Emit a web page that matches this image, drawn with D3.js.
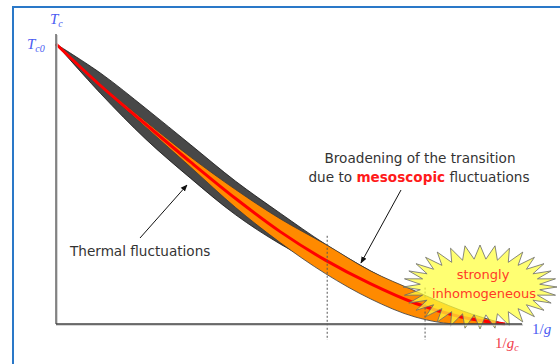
<!DOCTYPE html>
<html>
<head>
<meta charset="utf-8">
<script src="https://cdn.jsdelivr.net/npm/d3@7"></script>
<style>
  html, body { margin: 0; padding: 0; background: #fff; }
  svg { display: block; }
</style>
</head>
<body>
<svg id="chart" width="560" height="364"></svg>
<script>
// 1/g sample positions (1/g_c = 1)
const invG = [0, 0.1, 0.2, 0.3, 0.4, 0.5, 0.6, 0.7, 0.8, 0.9, 1.0];
// mean-field critical temperature Tc(1/g), Tc0 = 1
const tcMean = [1, 0.85, 0.713, 0.578, 0.448, 0.329, 0.228, 0.144, 0.074, 0.026, 0];
// band broadened by thermal fluctuations
const thermalUpper = [1, 0.895, 0.77, 0.64, 0.51, 0.395, 0.285, 0.19, 0.11, 0.045, 0];
const thermalLower = [1, 0.822, 0.66, 0.52, 0.39, 0.285, 0.20, 0.12, 0.06, 0.02, 0];
// band broadened by mesoscopic fluctuations
const mesoUpper = [1, 0.855, 0.723, 0.596, 0.48, 0.375, 0.285, 0.19, 0.118, 0.05, 0];
const mesoLower = [1, 0.846, 0.703, 0.56, 0.416, 0.29, 0.18, 0.09, 0.025, 0, 0];
// dotted markers on the 1/g axis and the Tc they reach
const markerX = [0.604, 0.822];
const markerTop = [0.315, 0.13];

const svg = d3.select("#chart");

const x = d3.scaleLinear().domain([0, 1]).range([56, 505]);
const y = d3.scaleLinear().domain([0, 1]).range([324, 44]);

// blue frame
svg.append("rect")
  .attr("x", 13).attr("y", 7).attr("width", 600).attr("height", 400)
  .attr("fill", "none").attr("stroke", "#2a78c8").attr("stroke-width", 2);

const idx = d3.range(invG.length);
const smooth = d3.curveCatmullRom.alpha(0.5);

const band = (up, lo, c) => d3.area()
  .x(i => x(invG[i])).y0(i => y(lo[i])).y1(i => y(up[i])).curve(c);

// thermal band
svg.append("path")
  .attr("d", band(thermalUpper, thermalLower, smooth)(idx))
  .attr("fill", "#484848").attr("stroke", "#111").attr("stroke-width", 0.8);

// mesoscopic band
svg.append("path")
  .attr("d", band(mesoUpper, mesoLower, d3.curveMonotoneX)(idx))
  .attr("fill", "#ff8a00").attr("stroke", "#3a3a3a").attr("stroke-width", 0.8);

// mean-field line
svg.append("path")
  .attr("d", d3.line().x(i => x(invG[i])).y(i => y(tcMean[i])).curve(smooth)(idx))
  .attr("fill", "none").attr("stroke", "#ff0000").attr("stroke-width", 3);

// dotted markers
markerX.forEach((m, k) => {
  svg.append("line")
    .attr("x1", x(m)).attr("x2", x(m))
    .attr("y1", y(markerTop[k])).attr("y2", y(0) + 16)
    .attr("stroke", "#555").attr("stroke-width", 1)
    .attr("stroke-dasharray", "2,2");
});

// spiky "strongly inhomogeneous" burst
const spikes = 32, cx = 480, cy = 287;
const burst = d3.range(spikes * 2).map(k => {
  const a = Math.PI * k / spikes;
  const outer = k % 2 === 0;
  const rx = outer ? 77 : 60, ry = outer ? 42 : 28;
  return [cx + rx * Math.cos(a), cy + ry * Math.sin(a)];
});
svg.append("path")
  .attr("d", d3.line()(burst) + "Z")
  .attr("fill", "#ffff3c").attr("fill-opacity", 0.72)
  .attr("stroke", "#6a6a6a").attr("stroke-width", 0.8);

svg.append("text").attr("x", 483).attr("y", 279)
  .attr("text-anchor", "middle").attr("font-family", "DejaVu Sans")
  .attr("font-size", 13).attr("fill", "#ff3a26").text("strongly");
svg.append("text").attr("x", 484).attr("y", 298)
  .attr("text-anchor", "middle").attr("font-family", "DejaVu Sans")
  .attr("font-size", 13).attr("fill", "#ff3a26").text("inhomogeneous");

// axes
const axisG = svg.append("g");
axisG.append("line")
  .attr("x1", x(0) + 1).attr("x2", x(0) + 1).attr("y1", 35).attr("y2", y(0) + 1)
  .attr("stroke", "#c8c8c8").attr("stroke-width", 1.5);
axisG.append("line")
  .attr("x1", x(0)).attr("x2", x(1.038) + 1).attr("y1", y(0) + 1).attr("y2", y(0) + 1)
  .attr("stroke", "#c8c8c8").attr("stroke-width", 1.5);
axisG.append("line")
  .attr("x1", x(0)).attr("x2", x(0)).attr("y1", 34).attr("y2", y(0))
  .attr("stroke", "#666").attr("stroke-width", 1.5);
axisG.append("line")
  .attr("x1", x(0)).attr("x2", x(1.038)).attr("y1", y(0)).attr("y2", y(0))
  .attr("stroke", "#444").attr("stroke-width", 1.5);

// axis labels
const serif = "Liberation Serif";
const blue = "#4a5cf2", red = "#f03c4a";
function sym(xp, yp, parts, color) {
  const t = svg.append("text").attr("x", xp).attr("y", yp)
    .attr("font-family", serif).attr("fill", color).attr("font-size", 15);
  parts.forEach(p => {
    const s = t.append("tspan").text(p.t);
    if (p.i) s.attr("font-style", "italic");
    if (p.sub) s.attr("font-size", 10).attr("dy", 3);
  });
}
sym(50, 24, [{t: "T", i: true}, {t: "c", i: true, sub: true}], blue);
sym(27, 49, [{t: "T", i: true}, {t: "c0", i: true, sub: true}], blue);
sym(532, 334, [{t: "1/"}, {t: "g", i: true}], blue);
sym(495, 348, [{t: "1/"}, {t: "g", i: true}, {t: "c", i: true, sub: true}], red);

// annotations
svg.append("defs").append("marker")
  .attr("id", "head").attr("viewBox", "0 0 10 10")
  .attr("refX", 9).attr("refY", 5)
  .attr("markerWidth", 7).attr("markerHeight", 7)
  .attr("orient", "auto")
  .append("path").attr("d", "M0,1 L10,5 L0,9 Z").attr("fill", "#111");

svg.append("line").attr("x1", 140).attr("y1", 238).attr("x2", 187).attr("y2", 185)
  .attr("stroke", "#111").attr("stroke-width", 1).attr("marker-end", "url(#head)");
svg.append("line").attr("x1", 401).attr("y1", 190).attr("x2", 361).attr("y2", 263)
  .attr("stroke", "#111").attr("stroke-width", 1).attr("marker-end", "url(#head)");

const sans = "DejaVu Sans";
const fs = 13.6;
svg.append("text").attr("x", 70).attr("y", 256)
  .attr("font-family", sans).attr("font-size", fs).attr("fill", "#333")
  .text("Thermal fluctuations");

svg.append("text").attr("x", 420).attr("y", 163).attr("text-anchor", "middle")
  .attr("font-family", sans).attr("font-size", fs).attr("fill", "#333")
  .text("Broadening of the transition");
const l2 = svg.append("text").attr("x", 419).attr("y", 182).attr("text-anchor", "middle")
  .attr("font-family", sans).attr("font-size", fs).attr("fill", "#333");
l2.append("tspan").text("due to ");
l2.append("tspan").attr("fill", "#ff1a1a").attr("font-weight", "bold").text("mesoscopic");
l2.append("tspan").text(" fluctuations");
</script>
</body>
</html>
